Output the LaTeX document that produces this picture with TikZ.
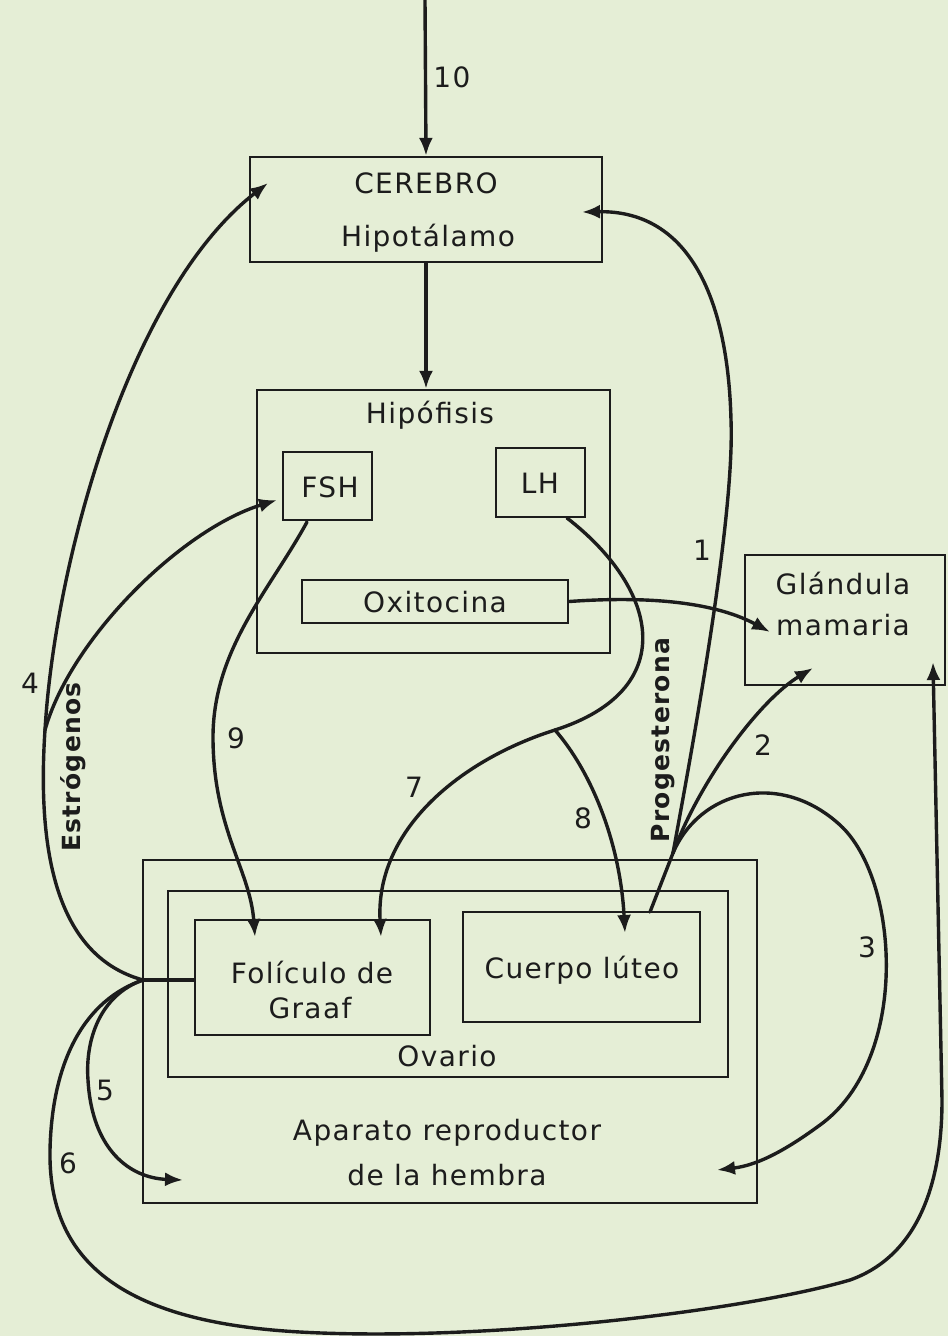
\documentclass[tikz,border=0pt]{standalone}
\usepackage{fontspec}
\usepackage{tikz}
\usetikzlibrary{arrows.meta}
\newfontfamily\labelfont{DejaVu Sans}[LetterSpace=5]
\definecolor{paper}{RGB}{229,238,214}
\definecolor{ink}{RGB}{28,28,28}

\begin{document}
\begin{tikzpicture}[x=1pt,y=-1pt,
box/.style={draw=ink, line width=2.4pt, inner sep=0pt},
txt/.style={text=ink, inner sep=0pt, font=\labelfont\fontsize{28}{32}\selectfont},
hormona/.style={txt, font=\labelfont\bfseries\fontsize{25}{29}\selectfont, rotate=90},
via/.style={draw=ink, line width=3.4pt, line cap=round},
flecha/.style={via, -{Latex[length=18pt,width=14pt]}}]
\fill[paper] (0,0) rectangle (948,1336);
\useasboundingbox (0,0) rectangle (948,1336);

\node[box, minimum width=352pt, minimum height=105pt] (cerebro) at (426,209.5) {};
\node[box, minimum width=353pt, minimum height=263pt] (hipofisis) at (433.5,521.5) {};
\node[box, minimum width=89pt, minimum height=68pt] (fsh) at (327.5,486) {};
\node[box, minimum width=89pt, minimum height=69pt] (lh) at (540.5,482.5) {};
\node[box, minimum width=266pt, minimum height=43pt] (oxi) at (435,601.5) {};
\node[box, minimum width=200pt, minimum height=130pt] (glandula) at (845,620) {};
\node[box, minimum width=614pt, minimum height=343pt] (aparato) at (450,1031.5) {};
\node[box, minimum width=560pt, minimum height=186pt] (ovario) at (448,984) {};
\node[box, minimum width=235pt, minimum height=115pt] (foliculo) at (312.5,977.5) {};
\node[box, minimum width=237pt, minimum height=110pt] (cuerpo) at (581.5,967) {};

\node[txt] (tcer) at (426,183) {CEREBRO};
\node[txt] (thipot) at (428,238) {Hipotálamo};
\node[txt] (thipof) at (430,415) {Hipófisis};
\node[txt] (tfsh) at (330,487) {FSH};
\node[txt] (tlh) at (540,483) {LH};
\node[txt] (toxi) at (435,602) {Oxitocina};
\node[txt] (tglan) at (843,583) {Glándula};
\node[txt] (tmam) at (843,625) {mamaria};
\node[txt] (tfol) at (312,972) {Folículo de};
\node[txt] (tgraaf) at (310,1008) {Graaf};
\node[txt] (tcuer) at (582,970) {Cuerpo lúteo};
\node[txt] (tova) at (447,1056) {Ovario};
\node[txt] (tapa) at (447,1133) {Aparato reproductor};
\node[txt] (themb) at (447,1175) {de la hembra};

\node[txt] (n10) at (452,77) {10};
\node[txt] (n1) at (702,550) {1};
\node[txt] (n2) at (763,745) {2};
\node[txt] (n3) at (867,947) {3};
\node[txt] (n4) at (30,683) {4};
\node[txt] (n5) at (105,1090) {5};
\node[txt] (n6) at (68,1163) {6};
\node[txt] (n7) at (414,787) {7};
\node[txt] (n8) at (583,818) {8};
\node[txt] (n9) at (236,738) {9};
\node[hormona] (testr) at (73,767) {Estrógenos};
\node[hormona] (tprog) at (663,740) {Progesterona};

\coordinate (entrada) at (425,0);
\coordinate (jn) at (143,980);
\coordinate (br) at (45,730);
\coordinate (cerin) at (268,183);
\coordinate (cerder) at (582,212);
\coordinate (fshin) at (277,500);
\coordinate (fshs) at (307,522);
\coordinate (lhs) at (567,518);
\coordinate (j78) at (555,730);
\coordinate (folin7) at (381,937);
\coordinate (folin9) at (255,937);
\coordinate (cuin8) at (625,933);
\coordinate (cl) at (650,912);
\coordinate (sp) at (673,853);
\coordinate (glin2) at (813,668);
\coordinate (glin6) at (933,662);
\coordinate (glinox) at (770,632);
\coordinate (apin3) at (717,1170);
\coordinate (apin5) at (183,1180);

\draw[flecha] (entrada) -- (cerebro.north);
\draw[flecha] (cerebro.south) -- (cerebro.south |- hipofisis.north);

\draw[via] (foliculo.west |- jn) -- (jn);
\draw[via] (jn) .. controls (70,960) and (35,880) .. (br);
\draw[flecha] (br) .. controls (55,560) and (130,290) .. (cerin);
\draw[flecha] (br) .. controls (70,640) and (180,530) .. (fshin);
\draw[flecha] (jn) .. controls (100,995) and (85,1040) .. (88,1080)
  .. controls (92,1150) and (130,1178) .. (apin5);
\draw[flecha] (jn) .. controls (85,1000) and (52,1060) .. (50,1150)
  .. controls (48,1260) and (120,1322) .. (300,1332)
  .. controls (480,1342) and (740,1312) .. (850,1280)
  .. controls (920,1255) and (942,1180) .. (942,1100) -- (glin6);

\draw[flecha] (fshs) .. controls (270,590) and (212,650) .. (213,740)
  .. controls (214,830) and (250,870) .. (folin9);
\draw[via] (lhs) .. controls (660,590) and (680,690) .. (j78);
\draw[flecha] (j78) .. controls (460,760) and (375,830) .. (folin7);
\draw[flecha] (j78) .. controls (590,770) and (620,840) .. (cuin8);

\draw[flecha] (oxi.east) .. controls (660,595) and (720,605) .. (glinox);

\draw[via] (cl) -- (sp);
\draw[flecha] (sp) .. controls (690,760) and (735,520) .. (731,420)
  .. controls (728,300) and (690,210) .. (cerder);
\draw[flecha] (sp) .. controls (700,780) and (760,700) .. (glin2);
\draw[flecha] (sp) .. controls (700,790) and (780,770) .. (840,825)
  .. controls (900,880) and (910,1060) .. (820,1125)
  .. controls (790,1147) and (760,1165) .. (apin3);
\end{tikzpicture}
\end{document}
